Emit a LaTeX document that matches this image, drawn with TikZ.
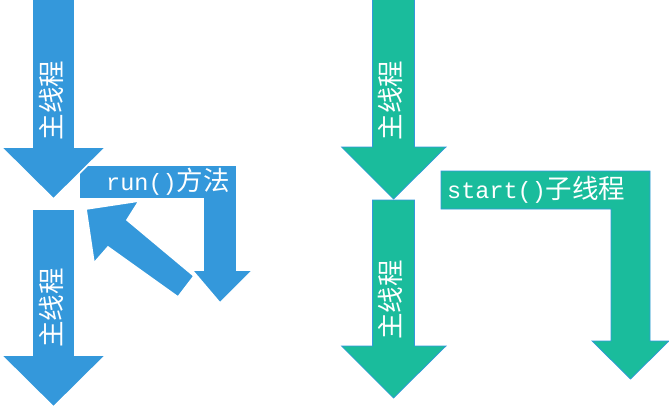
\documentclass[tikz,border=0pt]{standalone}
\usepackage{fontspec}
\newfontfamily\cjk{Noto Sans CJK SC}
\newfontfamily\asc{Liberation Mono}
\definecolor{fblue}{HTML}{3498DB}
\definecolor{fgreen}{HTML}{1ABC9C}
\begin{document}
\begin{tikzpicture}[x=1pt,y=-1pt,
  bluearrow/.style={fill=fblue,draw=white,line width=1.6pt,line join=miter},
  greenarrow/.style={fill=fgreen,draw=fblue,line width=0.7pt,line join=miter},
  lbl/.style={text=white,inner sep=0pt,font=\fontsize{26.5}{30}\selectfont\cjk},
  vlbl/.style={lbl,rotate=90}]
\useasboundingbox (0,0) rectangle (669,408);
% ---- left (blue) ----
% diagonal return arrow
\path[bluearrow] (86,209) -- (139,201) -- (127,220) -- (194,276) -- (178,297)
  -- (108,247) -- (94,263) -- cycle;
% bent run() arrow
\path[bluearrow] (79,165) -- (237,165) -- (237,270) -- (253,270) -- (220,303)
  -- (192,270) -- (203,270) -- (203,199) -- (79,199) -- cycle;
% main thread arrows
\path[bluearrow] (32,-2) -- (75,-2) -- (75,147) -- (106,147) -- (53.5,199)
  -- (1,147) -- (32,147) -- cycle;
\path[bluearrow] (32,209) -- (75,209) -- (75,355) -- (106,355) -- (53.5,407)
  -- (1,355) -- (32,355) -- cycle;
\node[vlbl] (lmain1) at (51,100.5) {主线程};
\node[vlbl] (lmain2) at (51,308) {主线程};
\node[lbl,anchor=west] (lrun) at (106,181.5) {{\asc\fontsize{23.5}{26}\selectfont run()}方法};
% ---- right (green) ----
\path[greenarrow] (372.5,-2) -- (414.5,-2) -- (414.5,147) -- (446,147) -- (393.5,199)
  -- (341.5,147) -- (372.5,147) -- cycle;
\path[greenarrow] (372.5,200) -- (414.5,200) -- (414.5,346) -- (446,346) -- (393.5,398)
  -- (341.5,346) -- (372.5,346) -- cycle;
\path[greenarrow] (441,171) -- (650,171) -- (650,341) -- (669,341) -- (630.5,379)
  -- (592,341) -- (611,341) -- (611,209) -- (441,209) -- cycle;
\node[vlbl] (rmain1) at (390,100.5) {主线程};
\node[vlbl] (rmain2) at (390,300) {主线程};
\node[lbl,anchor=west] (rstart) at (447,190) {{\asc\fontsize{23.5}{26}\selectfont start()}子线程};
\end{tikzpicture}
\end{document}
